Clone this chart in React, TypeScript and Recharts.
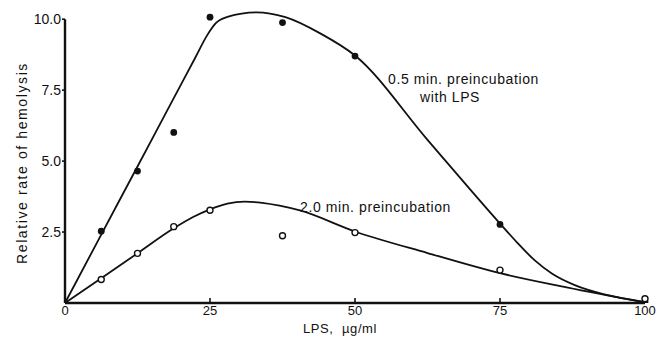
import React from 'react';
import { ComposedChart, Line, Scatter, XAxis, YAxis, ReferenceLine } from 'recharts';

// Tick labels
const xTicks = [0, 25, 50, 75, 100];
const yTicks = [2.5, 5, 7.5, 10];

// Measured points: 0.5 min preincubation with LPS (filled dots)
const shortPoints = [
  { x: 6.25, y: 2.53 },
  { x: 12.5, y: 4.65 },
  { x: 18.75, y: 6.01 },
  { x: 25, y: 10.07 },
  { x: 37.5, y: 9.88 },
  { x: 50, y: 8.7 },
  { x: 75, y: 2.77 },
  { x: 100, y: 0.03 },
];

// Measured points: 2.0 min preincubation (open dots)
const longPoints = [
  { x: 6.25, y: 0.83 },
  { x: 12.5, y: 1.75 },
  { x: 18.75, y: 2.69 },
  { x: 25, y: 3.27 },
  { x: 37.5, y: 2.37 },
  { x: 50, y: 2.48 },
  { x: 75, y: 1.16 },
  { x: 100, y: 0.15 },
];

// Hand-drawn fitted curves
const shortCurve = [
  { x: 0, y: 0 },
  { x: 6.25, y: 2.41 },
  { x: 12.5, y: 4.81 },
  { x: 18.75, y: 7.22 },
  { x: 22.5, y: 8.66 },
  { x: 24.5, y: 9.43 },
  { x: 26, y: 9.86 },
  { x: 28, y: 10.08 },
  { x: 33, y: 10.24 },
  { x: 38, y: 10.07 },
  { x: 44, y: 9.5 },
  { x: 50, y: 8.72 },
  { x: 62.5, y: 5.75 },
  { x: 75, y: 2.8 },
  { x: 78, y: 2.12 },
  { x: 81, y: 1.5 },
  { x: 84, y: 1.03 },
  { x: 88, y: 0.62 },
  { x: 93, y: 0.3 },
  { x: 100, y: 0.03 },
];

const longCurve = [
  { x: 0, y: 0 },
  { x: 6.25, y: 0.87 },
  { x: 12.5, y: 1.75 },
  { x: 18.75, y: 2.63 },
  { x: 22, y: 3.02 },
  { x: 25, y: 3.3 },
  { x: 28, y: 3.5 },
  { x: 31, y: 3.57 },
  { x: 34, y: 3.53 },
  { x: 37, y: 3.43 },
  { x: 40.5, y: 3.26 },
  { x: 50, y: 2.52 },
  { x: 62.5, y: 1.76 },
  { x: 75, y: 1.05 },
  { x: 86.5, y: 0.55 },
  { x: 100, y: 0.02 },
];

const INK = '#111';
const FONT = '"Liberation Sans", Arial, sans-serif';

const FilledDot = (props: any) => (
  <circle cx={props.cx} cy={props.cy} r={3.4} fill={INK} stroke="none" />
);
const OpenDot = (props: any) => (
  <circle cx={props.cx} cy={props.cy} r={3} fill="#fff" stroke={INK} strokeWidth={1.4} />
);

const textStyle: React.CSSProperties = {
  position: 'absolute',
  fontFamily: FONT,
  fontSize: 14,
  color: INK,
  whiteSpace: 'nowrap',
  lineHeight: '16px',
  letterSpacing: 0.6,
};

export default function App() {
  return (
    <div style={{ position: 'absolute', left: 0, top: 0, width: 662, height: 343, background: '#fff' }}>
      <ComposedChart
        width={662}
        height={343}
        margin={{ top: 5, right: 17, bottom: 0, left: 0 }}
      >
        <XAxis
          type="number"
          dataKey="x"
          domain={[0, 100]}
          ticks={xTicks}
          interval={0}
          axisLine={{ stroke: INK, strokeWidth: 2.4 }}
          tickLine={{ stroke: INK, strokeWidth: 1.6 }}
          tickSize={-5}
          tickMargin={8}
          height={40}
          tick={{ fill: INK, fontSize: 13, fontFamily: FONT }}
        />
        <YAxis
          type="number"
          dataKey="y"
          domain={[0, 10.5]}
          ticks={yTicks}
          interval={0}
          allowDataOverflow
          width={65}
          axisLine={false}
          tickLine={{ stroke: INK, strokeWidth: 1.6 }}
          tickSize={3}
          tickMargin={1}
          tickFormatter={(v: number) => v.toFixed(1)}
          tick={{ fill: INK, fontSize: 14, fontFamily: FONT }}
        />
        <ReferenceLine
          segment={[{ x: 0, y: 0 }, { x: 0, y: 10 }]}
          stroke={INK}
          strokeWidth={2.4}
          ifOverflow="visible"
        />
        <Line
          data={shortCurve}
          dataKey="y"
          type="monotone"
          stroke={INK}
          strokeWidth={1.8}
          dot={false}
          activeDot={false}
          isAnimationActive={false}
        />
        <Line
          data={longCurve}
          dataKey="y"
          type="monotone"
          stroke={INK}
          strokeWidth={1.8}
          dot={false}
          activeDot={false}
          isAnimationActive={false}
        />
        <Scatter data={shortPoints} dataKey="y" shape={FilledDot} isAnimationActive={false} />
        <Scatter data={longPoints} dataKey="y" shape={OpenDot} isAnimationActive={false} />
      </ComposedChart>

      <div style={{ ...textStyle, left: 388, top: 71 }}>0.5 min. preincubation</div>
      <div style={{ ...textStyle, left: 420, top: 89 }}>with LPS</div>
      <div style={{ ...textStyle, left: 300, top: 199 }}>2.0 min. preincubation</div>
      <div style={{ ...textStyle, fontSize: 13, left: 290, top: 322, width: 100, lineHeight: '14px', textAlign: 'center' }}>LPS,&nbsp;&nbsp;µg/ml</div>
      <div
        style={{
          ...textStyle,
          left: 22 - 120,
          top: 163 - 8,
          width: 240,
          textAlign: 'center',
          letterSpacing: 1.6,
          transform: 'rotate(-90deg)',
          transformOrigin: '50% 50%',
        }}
      >
        Relative rate of hemolysis
      </div>
    </div>
  );
}
